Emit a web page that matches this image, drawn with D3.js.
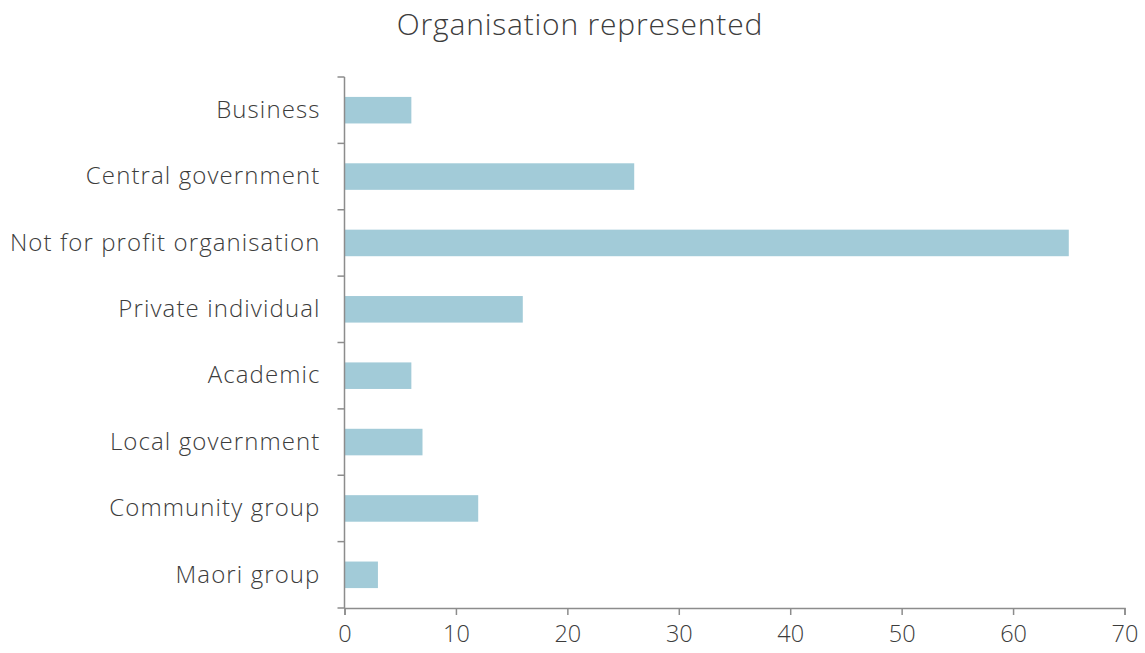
<!DOCTYPE html>
<html><head><meta charset="utf-8">
<script src="https://cdn.jsdelivr.net/npm/d3@7"></script>
<style>body{margin:0;background:#fff}svg{display:block}</style>
</head><body>
<svg id="c" width="1145" height="653"></svg>
<script>
const categories = ["Business","Central government","Not for profit organisation","Private individual","Academic","Local government","Community group","Maori group"];
const values = [6,26,65,16,6,7,12,3];
const xTicks = [0,10,20,30,40,50,60,70];
const title = "Organisation represented";

const svg = d3.select("#c");
const m = {left:344.5, right:1124.5, top:77, bottom:608};
const font = "'Open Sans', sans-serif";
const x = d3.scaleLinear().domain([0,70]).range([m.left, m.right]);
const y = d3.scaleBand().domain(categories).range([m.top, m.bottom]).paddingInner(0.6).paddingOuter(0.3);

svg.selectAll("rect.bar").data(values).join("rect")
  .attr("class","bar")
  .attr("x", x(0))
  .attr("y", (d,i)=>y(categories[i]))
  .attr("width", d=>x(d)-x(0))
  .attr("height", y.bandwidth())
  .attr("fill","#a2cbd8");

const xa = svg.append("g").attr("transform",`translate(0,${m.bottom})`)
  .call(d3.axisBottom(x).tickValues(xTicks).tickSize(7).tickPadding(10).tickSizeOuter(7));
const ya = svg.append("g").attr("transform",`translate(${m.left},0)`)
  .call(d3.axisLeft(y).tickSize(0).tickPadding(24));
const bounds = categories.map(c=>y(c) - (y.step()-y.bandwidth())/2);
bounds.push(m.bottom);
svg.append("g").selectAll("line").data(bounds).join("line")
  .attr("x1", m.left-7).attr("x2", m.left)
  .attr("y1", d=>d).attr("y2", d=>d)
  .attr("stroke","#8c8c8c").attr("stroke-width",1.5);

[xa,ya].forEach(a=>{
  a.selectAll("path").attr("stroke","#8c8c8c").attr("stroke-width",1.5);
  a.selectAll(".tick line").attr("stroke","#8c8c8c").attr("stroke-width",1.5);
  a.selectAll("text").attr("fill","#3c3c3c").style("font-family",font).style("font-weight",300).style("font-size","23.5px");
});
ya.selectAll("text").style("font-size","24px").style("letter-spacing","1.1px");
ya.select("path").attr("d",`M0,${m.top}V${m.bottom}`);

svg.append("text").attr("x",580).attr("y",35).attr("text-anchor","middle")
  .attr("fill","#3c3c3c").style("font-family",font).style("font-weight",300).style("font-size","30px")
  .style("letter-spacing","0.8px").text(title);
</script>
</body></html>
